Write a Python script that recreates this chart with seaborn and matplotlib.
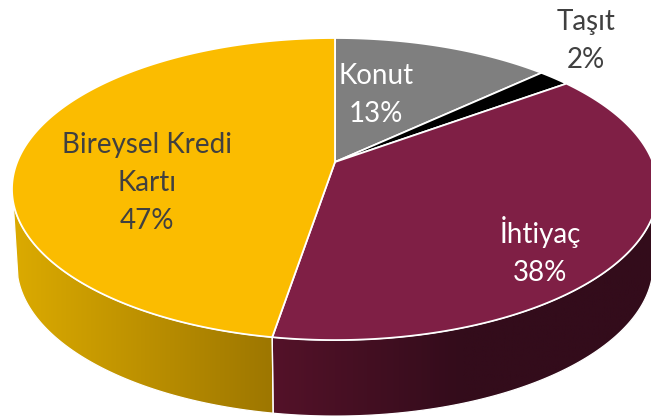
import numpy as np
import matplotlib
matplotlib.use("Agg")
import matplotlib.pyplot as plt
from matplotlib.colors import LinearSegmentedColormap
from matplotlib.patches import Polygon
import seaborn as sns

# değerler (saat yönünde, tepeden başlayarak)
categories = ["Konut", "Taşıt", "İhtiyaç", "Bireysel Kredi\nKartı"]
shares = [13.0, 1.9, 37.7, 47.4]
shown_pct = [13, 2, 38, 47]

colors = ["#7f7f7f", "#000000", "#7f1f45", "#fbbc00"]
text_colors = ["white", "#404040", "white", "#404040"]
label_pos = [(376, 95), (586, 41), (540, 251), (147, 183)]

# perspektif ayarları (piksel)
APEX_X, APEX_Y = 335, 162
WIDTH, HEIGHT, TILT = 317.8, 146.2, 0.179
DEPTH, SHRINK = 76, 0.985
WALL_LIMIT = np.deg2rad(15)


def project(theta, lower=False):
    # birim daireyi eğik elipse çevir
    w = 1 + TILT * np.sin(theta)
    x = APEX_X + WIDTH * np.cos(theta) / w * (SHRINK if lower else 1)
    y = APEX_Y - HEIGHT * np.sin(theta) / w + (DEPTH if lower else 0)
    return np.column_stack([x, y])


sns.set_theme(style="white")
plt.rcParams["font.family"] = ["Lato", "DejaVu Sans"]

fig = plt.figure(figsize=(6.51, 4.16), dpi=100)
ax = fig.add_axes([0, 0, 1, 1])

wedges = ax.pie(shares, colors=colors, startangle=90, counterclock=False)[0]
angles = [(np.deg2rad(w.theta1), np.deg2rad(w.theta2)) for w in wedges]
for w in wedges:
    w.remove()

wall_from = -np.pi + WALL_LIMIT
wall_to = -WALL_LIMIT
wall_maps = {
    "#7f1f45": LinearSegmentedColormap.from_list("m", ["#541229", "#330c1b", "#330c1b"]),
    "#fbbc00": LinearSegmentedColormap.from_list("g", ["#dcab00", "#9d7600"]),
}
wall_spans = {"#7f1f45": (273, 651), "#fbbc00": (13, 273)}

# yan duvarlar
for (t1, t2), color in zip(angles, colors):
    t1 = max(t1, wall_from)
    t2 = min(t2, wall_to)
    if color not in wall_maps or t2 <= t1:
        continue
    tt = np.linspace(t1, t2, 200)
    outline = np.vstack([project(tt), project(tt[::-1], lower=True)])
    patch = Polygon(outline, closed=True, facecolor="none", edgecolor="white", lw=0.9, zorder=3)
    ax.add_patch(patch)
    x0, x1 = wall_spans[color]
    im = ax.imshow(np.linspace(0, 1, 256)[None, :], cmap=wall_maps[color], aspect="auto",
                   extent=(x0 - 2, x1 + 2, 416, 150), zorder=2)
    im.set_clip_path(patch)

# üst yüzey
for (t1, t2), color in zip(angles, colors):
    tt = np.linspace(t1, t2, 300)
    rim = project(tt)
    ax.add_patch(Polygon(np.vstack([[APEX_X, APEX_Y], rim]), closed=True, facecolor=color,
                         edgecolor="white", lw=1.3, joinstyle="round", zorder=4))

for name, pct, pos, tc in zip(categories, shown_pct, label_pos, text_colors):
    ax.text(pos[0], pos[1], f"{name}\n{pct}%", color=tc, fontsize=20, ha="center", va="center",
            linespacing=1.58, zorder=5)

ax.set_xlim(0, 651)
ax.set_ylim(416, 0)
ax.set_aspect("auto")
ax.axis("off")
fig.savefig("out.png", dpi=100)
